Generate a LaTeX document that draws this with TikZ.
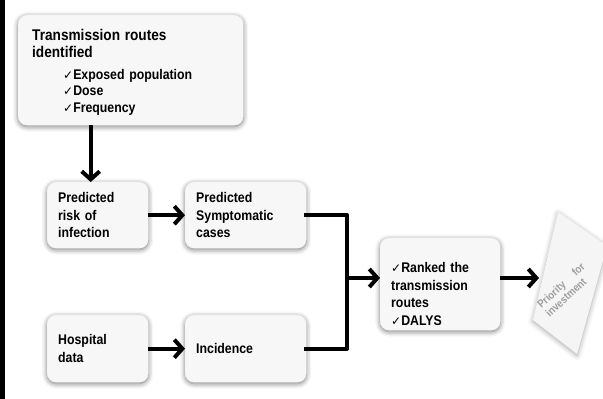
\documentclass[tikz,border=0pt]{standalone}
\usepackage{fontspec}
\setmainfont[FakeStretch=0.88]{Liberation Sans}
\newfontfamily\symfont{DejaVu Sans}
\usepackage{tikz}
\usetikzlibrary{arrows.meta,shadows.blur}
\newcommand{\tck}{{\symfont\mdseries\fontsize{12}{12}\selectfont ✓}}

\tikzset{
  box/.style={anchor=north west,rounded corners=9pt,fill=gray!6,draw=gray!10,
    blur shadow={shadow xshift=0pt,shadow yshift=-1.5pt,shadow blur radius=5pt,shadow opacity=55},
    align=left,inner xsep=11pt,inner ysep=4pt,
    font=\fontsize{14}{17.5}\selectfont\bfseries},
  flow/.style={line width=4pt,-{Straight Barb[length=8pt,width=18pt,line width=4pt]}},
  link/.style={line width=4pt,line cap=rect},
  papertxt/.style={text=gray!75,font=\fontsize{11}{12}\selectfont\bfseries,inner sep=0pt,align=left}
}

\begin{document}
\begin{tikzpicture}[line join=round,x=1pt,y=1pt]
\useasboundingbox (0,0) rectangle (603,399);
\fill [black] (0,0) rectangle (5,399);
% boxes
\node [box,inner xsep=14pt,minimum width=225pt,minimum height=110pt,text width=197pt] (routes) at (18,384)
  {{\fontsize{15.5}{18}\selectfont\rule{0pt}{15pt}Transmission routes\\identified}\\[4pt]
   \hspace*{31pt}\tck Exposed population\\[-1pt]
   \hspace*{31pt}\tck Dose\\[-1pt]
   \hspace*{31pt}\tck Frequency};
\node [box,minimum width=101pt,minimum height=66pt,text width=79pt] (risk) at (47,217)
  {Predicted\\risk of\\infection};
\node [box,minimum width=121pt,minimum height=66pt,text width=99pt] (sympt) at (185,217)
  {Predicted\\Symptomatic\\cases};
\node [box,minimum width=101pt,minimum height=67pt,text width=79pt] (hosp) at (47,84)
  {Hospital\\data};
\node [box,minimum width=121pt,minimum height=67pt,text width=99pt] (incid) at (185,84)
  {Incidence};
\node [box,minimum width=120pt,minimum height=92pt,text width=98pt] (ranked) at (380,161)
  {\rule{0pt}{30pt}\tck Ranked the\\transmission\\routes\\\tck DALYS};
% paper
\begin{scope}
\clip (0,0) rectangle (603,399);
\coordinate (pa) at (558,187);
\coordinate (pb) at (607,153);
\coordinate (pc) at (577,45);
\coordinate (pd) at (533,79);
\fill [gray!8,blur shadow={shadow xshift=0pt,shadow yshift=-1.5pt,shadow blur radius=5pt,shadow opacity=35}]
  (pa) -- (pb) -- (pc) -- (pd) -- cycle;
\node [papertxt,rotate=43,text width=60pt] (prio) at (565,109) {Priority\hfill for\\investment};
\end{scope}
% connectors
\coordinate (riskin) at ([xshift=-7pt]risk.north);
\coordinate (join) at (347,121);
\coordinate (paperin) at (539,121);
\draw [flow] (routes.south -| riskin) -- (riskin);
\draw [flow] (risk) -- (sympt);
\draw [flow] (hosp) -- (incid);
\draw [link] (sympt.east) -| (join |- incid.east) -- (incid.east);
\draw [flow] (join) -- (join -| ranked.west);
\draw [flow] (join -| ranked.east) -- (paperin);
\end{tikzpicture}
\end{document}
